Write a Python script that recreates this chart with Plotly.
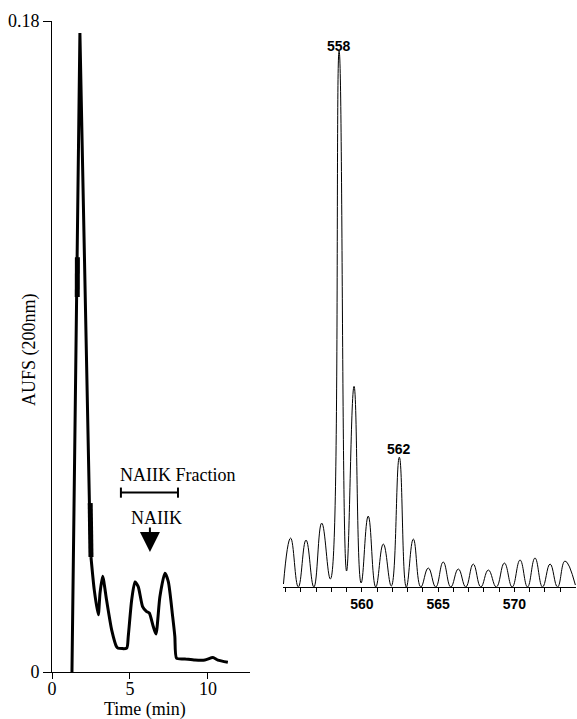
import plotly.graph_objects as go

W, H = 577, 719

# ---------------- Left panel: HPLC chromatogram ----------------
time_min = [1.28, 1.79, 2.40, 2.50, 2.71, 2.97, 3.08, 3.25, 3.50, 3.83, 4.15, 4.23,
            4.79, 4.89, 5.11, 5.32, 5.53, 5.81, 6.07, 6.24, 6.50, 6.67, 6.92, 7.24,
            7.46, 7.74, 7.88, 7.99, 8.53, 9.17, 9.81, 10.32, 10.64, 11.28]
aufs = [0.0, 0.1767, 0.0467, 0.0318, 0.0227, 0.0158, 0.0218, 0.0265, 0.0199, 0.0116,
        0.0069, 0.0066, 0.0066, 0.0098, 0.0199, 0.0249, 0.0236, 0.0181, 0.0167, 0.0163,
        0.0125, 0.0105, 0.0208, 0.0273, 0.0250, 0.0153, 0.0098, 0.0038, 0.0036, 0.0033,
        0.0033, 0.0040, 0.0033, 0.0027]
spike_end = 4  # first points form the sharp solvent-front spike (straight pen strokes)
# thickened retraced bits of the pen trace
thick1_t = [1.62, 1.63]
thick1_v = [0.1037, 0.1147]
thick2_t = [2.45, 2.50]
thick2_v = [0.0467, 0.0318]

left_xticks = [0, 5, 10]
left_yticks = [0, 0.18]
left_yticktext = ["0", "0.18"]

# ---------------- Right panel: mass spectrum ----------------
peak_mz = [555.32, 556.33, 557.36, 558.50, 559.48, 560.41, 561.40, 562.45, 563.37, 564.35,
           565.33, 566.32, 567.30, 568.29, 569.34, 570.37, 571.35, 572.34, 573.32]
peak_int = [49, 47, 64, 537, 201, 71, 43, 130, 48, 19, 25, 18, 23, 17, 24, 27, 29, 23, 26]
valley_int = [0, 0, 8, 16, 4, 0, 1, 0, 0, 0, 0, 0, 0, 0, 0, 0, 0, 0]
start_mz, start_int = 554.85, 3
end_mz, end_int = 574.0, 2

right_xticks = list(range(555, 574))
right_labels = {560: "560", 565: "565", 570: "570"}
peak_labels = {3: "558", 7: "562"}

# build spectrum polyline from peaks and valleys
spec_x = [start_mz]
spec_y = [start_int]
for i, (m, h) in enumerate(zip(peak_mz, peak_int)):
    spec_x.append(m)
    spec_y.append(h)
    if i < len(valley_int):
        spec_x.append((m + peak_mz[i + 1]) / 2)
        spec_y.append(valley_int[i])
spec_x.append(end_mz)
spec_y.append(end_int)

fig = go.Figure()
fig.add_trace(go.Scatter(x=time_min[:spike_end], y=aufs[:spike_end], mode="lines",
                         line=dict(color="black", width=3),
                         xaxis="x", yaxis="y", hoverinfo="skip"))
fig.add_trace(go.Scatter(x=time_min[spike_end - 1:], y=aufs[spike_end - 1:], mode="lines",
                         line=dict(color="black", width=3, shape="spline", smoothing=0.6),
                         xaxis="x", yaxis="y", hoverinfo="skip"))
for tx, vy in ((thick1_t, thick1_v), (thick2_t, thick2_v)):
    fig.add_trace(go.Scatter(x=tx, y=vy, mode="lines",
                             line=dict(color="black", width=5),
                             xaxis="x", yaxis="y", hoverinfo="skip"))
fig.add_trace(go.Scatter(x=spec_x, y=spec_y, mode="lines",
                         line=dict(color="black", width=1, shape="spline", smoothing=1.3),
                         xaxis="x2", yaxis="y2", hoverinfo="skip"))

serif = "Liberation Serif"
sans = "Liberation Sans"

fig.update_layout(
    template="none",
    width=W, height=H, margin=dict(l=0, r=0, t=0, b=0, autoexpand=False),
    paper_bgcolor="white", plot_bgcolor="white", showlegend=False,
    xaxis=dict(domain=[52 / W, 250 / W], range=[0, 12.7], anchor="y", automargin=False,
               showline=True, linecolor="black", linewidth=1,
               ticks="outside", ticklen=6, tickcolor="black", tickwidth=1,
               ticklabelstandoff=-6,
               tickvals=left_xticks, tickfont=dict(family=serif, size=18, color="black"),
               showgrid=False, zeroline=False),
    yaxis=dict(domain=[1 - 672 / H, 1 - 21 / H], range=[0, 0.18], anchor="x", automargin=False,
               showline=True, linecolor="black", linewidth=1,
               ticks="outside", ticklen=8, tickcolor="black", tickwidth=1,
               tickvals=left_yticks, ticktext=left_yticktext,
               tickfont=dict(family=serif, size=18, color="black"),
               showgrid=False, zeroline=False),
    xaxis2=dict(domain=[283 / W, 576 / W], range=[554.82, 574.04], anchor="y2", automargin=False,
                showline=True, linecolor="black", linewidth=1,
                ticks="outside", ticklen=4, tickcolor="black", tickwidth=1,
                tickvals=right_xticks,
                ticktext=[right_labels.get(v, "") for v in right_xticks],
                tickfont=dict(family=sans, size=14, color="black", weight="bold"),
                showgrid=False, zeroline=False),
    yaxis2=dict(domain=[1 - 587 / H, 1 - 48 / H], range=[0, 540], anchor="x2",
                automargin=False, visible=False),
)

annotations = [
    dict(text="AUFS (200nm)", x=29 / W, y=1 - 350 / H, xref="paper", yref="paper",
         xanchor="center", yanchor="middle",
         textangle=-90, showarrow=False, font=dict(family=serif, size=18, color="black")),
    dict(text="Time (min)", x=145 / W, y=1 - 709 / H, xref="paper", yref="paper",
         xanchor="center", yanchor="middle",
         showarrow=False, font=dict(family=serif, size=18, color="black")),
    dict(text="NAIIK Fraction", x=8.08, y=0.0545, xref="x", yref="y",
         xanchor="center", yanchor="middle",
         showarrow=False, font=dict(family=serif, size=18, color="black")),
    dict(text="NAIIK", x=6.73, y=0.0426, xref="x", yref="y",
         xanchor="center", yanchor="middle",
         showarrow=False, font=dict(family=serif, size=18, color="black")),
    dict(text="", x=6.28, y=0.0332, xref="x", yref="y", showarrow=True,
         ax=0, ay=-26, arrowhead=2, arrowsize=2, arrowwidth=2, arrowcolor="black"),
]
for idx, lab in peak_labels.items():
    annotations.append(dict(text=lab, x=peak_mz[idx], y=peak_int[idx], xref="x2", yref="y2",
                            xanchor="center", yanchor="bottom", showarrow=False,
                            yshift=-5 if idx == 3 else -2,
                            font=dict(family=sans, size=14, color="black", weight="bold")))
fig.update_layout(annotations=annotations)

# bracket for the NAIIK fraction
br_x0, br_x1, br_y, cap = 4.42, 8.08, 0.0496, 0.0014
shapes = [
    dict(type="line", xref="x", yref="y", x0=br_x0, x1=br_x1, y0=br_y, y1=br_y,
         line=dict(color="black", width=2)),
    dict(type="line", xref="x", yref="y", x0=br_x0, x1=br_x0, y0=br_y - cap, y1=br_y + cap,
         line=dict(color="black", width=2)),
    dict(type="line", xref="x", yref="y", x0=br_x1, x1=br_x1, y0=br_y - cap, y1=br_y + cap,
         line=dict(color="black", width=2)),
]
fig.update_layout(shapes=shapes)

fig.write_html("out.html")
